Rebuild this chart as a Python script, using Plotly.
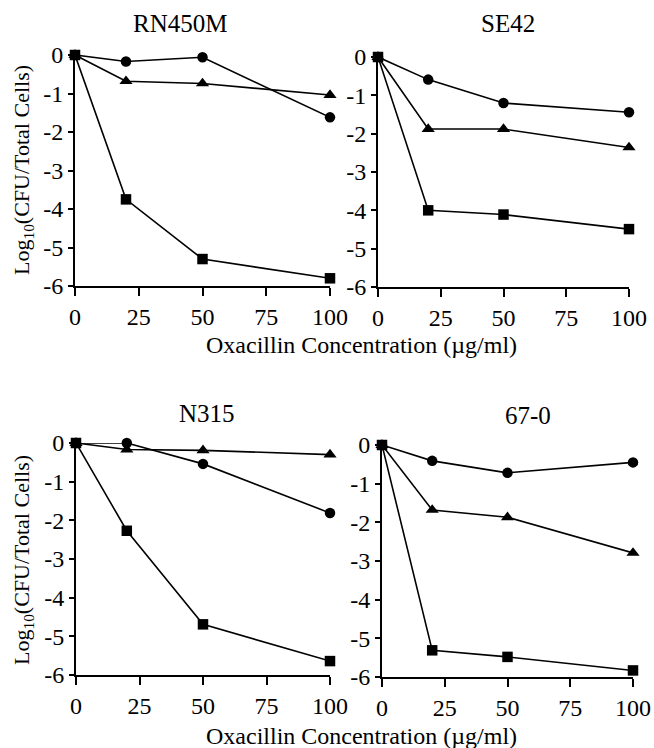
import plotly.graph_objects as go

W, H = 654, 748

conc = [0, 20, 50, 100]
panel_titles = ["RN450M", "SE42", "N315", "67-0"]

# series per panel: circle, triangle, square
circle = {
    "RN450M": [0, -0.17, -0.06, -1.62],
    "SE42": [0, -0.59, -1.20, -1.44],
    "N315": [0, 0.0, -0.54, -1.81],
    "67-0": [0, -0.41, -0.72, -0.45],
}
triangle = {
    "RN450M": [0, -0.68, -0.74, -1.04],
    "SE42": [0, -1.88, -1.88, -2.36],
    "N315": [0, -0.17, -0.19, -0.30],
    "67-0": [0, -1.68, -1.87, -2.79],
}
square = {
    "RN450M": [0, -3.75, -5.30, -5.80],
    "SE42": [0, -4.00, -4.11, -4.49],
    "N315": [0, -2.27, -4.69, -5.64],
    "67-0": [0, -5.31, -5.48, -5.83],
}

xtick_vals = [0, 25, 50, 75, 100]
xtick_text = ["0", "25", "50", "75", "100"]
ytick_vals = [0, -1, -2, -3, -4, -5, -6]
ytick_text = ["0", "-1", "-2", "-3", "-4", "-5", "-6"]

x_title = "Oxacillin Concentration (\u00b5g/ml)"
y_title = "Log<sub>10</sub>(CFU/Total Cells)"

# plot boxes in pixels: (left, right, top, bottom)
boxes = [(75, 330, 55, 286), (378, 629, 57, 287), (76, 330, 443, 675), (382, 633, 445, 677)]
title_pos = [(180, 23), (508, 23), (207, 413), (528, 415)]

FONT = "Liberation Serif"
fig = go.Figure()

for i, name in enumerate(panel_titles):
    l, r, t, b = boxes[i]
    ax = "" if i == 0 else str(i + 1)
    for ys, sym in [(circle[name], "circle"), (triangle[name], "triangle-up"), (square[name], "square")]:
        fig.add_trace(go.Scatter(
            x=conc, y=ys, mode="lines+markers",
            line=dict(color="black", width=1.6),
            marker=dict(symbol=sym, size=10.5 if sym != "triangle-up" else 11.5, color="black"),
            cliponaxis=False, showlegend=False,
            xaxis="x" + ax, yaxis="y" + ax,
        ))
    fig.update_layout(**{
        "xaxis" + ax: dict(
            domain=[l / W, r / W], range=[0, 100], anchor="y" + ax, automargin=False,
            tickmode="array", tickvals=xtick_vals, ticktext=xtick_text, ticks="outside", ticklen=8,
            tickwidth=1.5, tickcolor="black", showline=True, linecolor="black", linewidth=2,
            showgrid=False, zeroline=False, fixedrange=True,
            tickfont=dict(family=FONT, size=24, color="black"),
        ),
        "yaxis" + ax: dict(
            domain=[1 - b / H, 1 - t / H], range=[-6, 0], anchor="x" + ax, automargin=False,
            tickmode="array", tickvals=ytick_vals, ticktext=ytick_text, ticks="outside", ticklen=5,
            tickwidth=1.5, tickcolor="black", showline=True, linecolor="black", linewidth=2,
            showgrid=False, zeroline=False, fixedrange=True,
            tickfont=dict(family=FONT, size=24, color="black"),
        ),
    })
    tx, ty = title_pos[i]
    fig.add_annotation(text=name, x=tx / W, y=1 - ty / H, xref="paper", yref="paper",
                       showarrow=False, font=dict(family=FONT, size=25, color="black"),
                       xanchor="center", yanchor="middle")

for yy in [345, 736]:
    fig.add_annotation(text=x_title, x=361 / W, y=1 - yy / H, xref="paper", yref="paper",
                       showarrow=False, font=dict(family=FONT, size=24, color="black"),
                       xanchor="center", yanchor="middle")
for yy in [170, 560]:
    fig.add_annotation(text=y_title, x=23 / W, y=1 - yy / H, xref="paper", yref="paper",
                       showarrow=False, textangle=-90, font=dict(family=FONT, size=22, color="black"),
                       xanchor="center", yanchor="middle")

fig.update_layout(width=W, height=H, autosize=False,
                  margin=dict(l=0, r=0, t=0, b=0, pad=0, autoexpand=False),
                  font=dict(family=FONT, color="black"), showlegend=False,
                  paper_bgcolor="white", plot_bgcolor="white")
fig.write_html("out.html")
